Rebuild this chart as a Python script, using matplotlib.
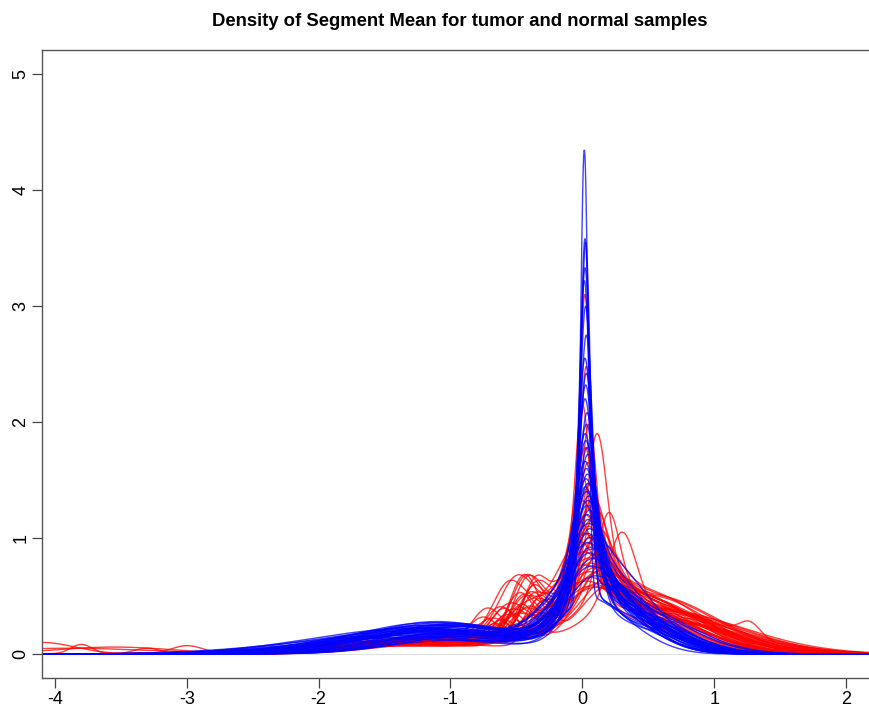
"""Density of segment mean, tumor (red) vs normal (blue) samples."""

import matplotlib

matplotlib.use("Agg")
import matplotlib.pyplot as plt
import numpy as np

plt.rcParams["font.family"] = ["Liberation Sans", "DejaVu Sans"]
plt.rcParams["axes.unicode_minus"] = False

# ---- normal samples (blue): central peak, base, left shoulder, right tail ----
blue_peak_h = [4.35, 3.58, 3.55, 3.33, 3.22, 3.0, 2.75, 2.55, 2.42, 2.32, 2.2, 2.08, 1.98, 1.9,
               1.84, 1.78, 1.72, 1.66, 1.6, 1.55, 1.51, 1.47, 1.44, 1.4, 1.36, 1.32, 1.28, 1.24,
               1.2, 1.16, 1.12, 1.08, 1.04, 1.0, 0.96, 0.92, 0.87, 0.82, 0.75, 0.66]
blue_peak_x = [0.015, 0.02, 0.025, 0.02, 0.015, 0.025, 0.03, 0.02, 0.03, 0.025, 0.02, 0.035, 0.03,
               0.02, 0.025, 0.035, 0.04, 0.02, 0.03, 0.035, 0.025, 0.04, 0.02, 0.03, 0.045, 0.035,
               0.03, 0.05, 0.025, 0.04, 0.03, 0.05, 0.035, 0.045, 0.03, 0.055, 0.04, 0.06, 0.035, 0.05]
blue_peak_w = [0.028, 0.035, 0.037, 0.04, 0.042, 0.045, 0.049, 0.052, 0.055, 0.057, 0.06, 0.063,
               0.066, 0.068, 0.07, 0.072, 0.074, 0.076, 0.078, 0.08, 0.082, 0.084, 0.086, 0.088,
               0.09, 0.092, 0.094, 0.096, 0.098, 0.1, 0.102, 0.105, 0.108, 0.11, 0.113, 0.116,
               0.12, 0.124, 0.128, 0.135]
blue_base_h = [0.3, 0.4, 0.35, 0.45, 0.3, 0.5, 0.4, 0.55, 0.35, 0.45, 0.5, 0.3, 0.6, 0.4, 0.45, 0.35,
               0.5, 0.55, 0.3, 0.45, 0.6, 0.4, 0.35, 0.5, 0.45, 0.55, 0.3, 0.4, 0.5, 0.35, 0.6, 0.45,
               0.4, 0.3, 0.55, 0.5, 0.35, 0.45, 0.4, 0.3]
blue_base_w = [0.18, 0.22, 0.2, 0.25, 0.17, 0.23, 0.2, 0.28, 0.19, 0.24, 0.21, 0.18, 0.26, 0.2,
               0.22, 0.17, 0.25, 0.23, 0.19, 0.21, 0.27, 0.2, 0.18, 0.24, 0.22, 0.26, 0.17, 0.2,
               0.23, 0.19, 0.28, 0.21, 0.2, 0.18, 0.25, 0.22, 0.19, 0.24, 0.21, 0.2]
blue_left_h = [0.18, 0.22, 0.15, 0.25, 0.2, 0.12, 0.27, 0.19, 0.23, 0.16, 0.21, 0.26, 0.14, 0.24,
               0.18, 0.2, 0.28, 0.17, 0.22, 0.15, 0.25, 0.19, 0.13, 0.23, 0.21, 0.17, 0.26, 0.2,
               0.16, 0.24, 0.18, 0.22, 0.27, 0.15, 0.2, 0.23, 0.19, 0.25, 0.17, 0.21]
blue_left_x = [-1.0, -1.2, -0.9, -1.1, -1.3, -0.95, -1.15, -1.05, -1.25, -0.85, -1.1, -1.0, -1.35,
               -0.9, -1.2, -1.05, -1.1, -0.95, -1.3, -1.0, -1.15, -0.9, -1.25, -1.05, -1.0, -1.2,
               -0.95, -1.1, -1.4, -1.0, -0.9, -1.15, -1.05, -1.25, -0.95, -1.1, -1.2, -1.0, -0.85, -1.1]
blue_left_w = [0.6, 0.7, 0.5, 0.65, 0.75, 0.55, 0.6, 0.7, 0.65, 0.5, 0.6, 0.55, 0.8, 0.6, 0.7, 0.65,
               0.55, 0.6, 0.75, 0.5, 0.65, 0.6, 0.7, 0.55, 0.65, 0.6, 0.5, 0.7, 0.8, 0.6, 0.55, 0.65,
               0.6, 0.7, 0.5, 0.6, 0.75, 0.65, 0.55, 0.6]
blue_right_h = [0.25, 0.3, 0.2, 0.35, 0.28, 0.22, 0.32, 0.18, 0.3, 0.26, 0.24, 0.34, 0.2, 0.28,
                0.36, 0.22, 0.3, 0.25, 0.19, 0.33, 0.27, 0.23, 0.31, 0.21, 0.29, 0.35, 0.24, 0.2,
                0.3, 0.26, 0.38, 0.22, 0.28, 0.32, 0.25, 0.2, 0.3, 0.27, 0.35, 0.4]
blue_right_x = [0.35, 0.4, 0.3, 0.45, 0.38, 0.32, 0.42, 0.28, 0.36, 0.4, 0.33, 0.44, 0.3, 0.37,
                0.41, 0.34, 0.39, 0.31, 0.43, 0.36, 0.38, 0.3, 0.42, 0.35, 0.4, 0.33, 0.37, 0.45,
                0.32, 0.39, 0.36, 0.41, 0.34, 0.38, 0.3, 0.44, 0.35, 0.4, 0.33, 0.37]
blue_right_w = [0.3, 0.35, 0.25, 0.4, 0.32, 0.28, 0.36, 0.3, 0.34, 0.38, 0.27, 0.33, 0.3, 0.35,
                0.4, 0.29, 0.31, 0.36, 0.33, 0.28, 0.37, 0.3, 0.34, 0.32, 0.39, 0.3, 0.35, 0.33,
                0.28, 0.36, 0.31, 0.34, 0.38, 0.3, 0.35, 0.32, 0.37, 0.29, 0.33, 0.36]

# ---- tumor samples (red) ----
red_peak_h = [3.1, 2.48, 2.15, 1.98, 1.9, 1.78, 1.65, 1.55, 1.48, 1.42, 1.36, 1.32, 1.28, 1.24,
              1.2, 1.17, 1.14, 1.1, 1.07, 1.04, 1.02, 1.0, 0.97, 0.95, 0.93, 0.9, 0.88, 0.86, 0.84,
              0.82, 0.8, 0.78, 0.76, 0.74, 0.72, 0.7, 0.68, 0.66, 0.64, 0.62, 0.6, 0.58, 0.56,
              0.54, 1.05, 1.22]
red_peak_x = [0.02, 0.03, 0.0, 0.05, 0.11, 0.02, 0.04, -0.01, 0.06, 0.03, 0.08, 0.0, 0.05, 0.1,
              0.02, 0.07, -0.02, 0.04, 0.12, 0.01, 0.06, 0.09, -0.03, 0.03, 0.14, 0.05, 0.0, 0.08,
              0.11, 0.02, 0.16, 0.04, -0.04, 0.07, 0.13, 0.01, 0.1, 0.05, 0.18, -0.02, 0.08, 0.03,
              0.15, 0.06, 0.3, 0.2]
red_peak_w = [0.045, 0.05, 0.058, 0.065, 0.075, 0.068, 0.075, 0.078, 0.085, 0.088, 0.092, 0.095,
              0.098, 0.1, 0.104, 0.108, 0.11, 0.112, 0.115, 0.118, 0.12, 0.122, 0.125, 0.128,
              0.13, 0.133, 0.136, 0.14, 0.142, 0.145, 0.148, 0.15, 0.153, 0.156, 0.16, 0.163,
              0.166, 0.17, 0.174, 0.178, 0.182, 0.186, 0.19, 0.195, 0.1, 0.08]
red_base_h = [0.35, 0.3, 0.4, 0.25, 0.3, 0.45, 0.35, 0.3, 0.4, 0.25, 0.35, 0.45, 0.3, 0.2, 0.4,
              0.35, 0.3, 0.25, 0.2, 0.4, 0.35, 0.3, 0.45, 0.25, 0.2, 0.35, 0.4, 0.3, 0.25, 0.35,
              0.2, 0.3, 0.4, 0.25, 0.2, 0.35, 0.3, 0.25, 0.2, 0.3, 0.25, 0.3, 0.2, 0.25, 0.2, 0.2]
red_base_w = [0.22, 0.2, 0.26, 0.18, 0.24, 0.28, 0.22, 0.2, 0.26, 0.3, 0.23, 0.27, 0.21, 0.19,
              0.25, 0.22, 0.2, 0.24, 0.18, 0.28, 0.23, 0.21, 0.3, 0.2, 0.19, 0.25, 0.27, 0.22,
              0.2, 0.24, 0.18, 0.21, 0.29, 0.2, 0.19, 0.26, 0.22, 0.2, 0.18, 0.23, 0.21, 0.24,
              0.19, 0.22, 0.2, 0.2]
red_left_h = [0.1, 0.14, 0.08, 0.16, 0.12, 0.09, 0.15, 0.11, 0.13, 0.07, 0.12, 0.17, 0.1, 0.14,
              0.09, 0.13, 0.16, 0.08, 0.11, 0.15, 0.12, 0.1, 0.18, 0.09, 0.13, 0.11, 0.14, 0.07,
              0.12, 0.16, 0.1, 0.13, 0.15, 0.09, 0.11, 0.14, 0.12, 0.1, 0.08, 0.16, 0.13, 0.11,
              0.09, 0.15, 0.12, 0.1]
red_left_x = [-1.1, -0.9, -1.3, -1.0, -1.2, -1.4, -0.95, -1.15, -1.05, -1.5, -1.0, -0.9, -1.25,
              -1.1, -1.35, -1.0, -0.95, -1.2, -1.1, -0.9, -1.3, -1.05, -1.0, -1.4, -1.15, -0.95,
              -1.1, -1.25, -1.0, -0.9, -1.2, -1.05, -1.1, -1.3, -1.0, -0.95, -1.15, -1.2, -1.35,
              -1.0, -1.1, -0.9, -1.25, -1.05, -1.0, -1.15]
red_left_w = [0.6, 0.55, 0.7, 0.5, 0.65, 0.8, 0.55, 0.6, 0.7, 0.9, 0.6, 0.5, 0.65, 0.7, 0.75,
              0.55, 0.6, 0.65, 0.7, 0.5, 0.8, 0.6, 0.55, 0.85, 0.65, 0.6, 0.7, 0.75, 0.55, 0.5,
              0.65, 0.6, 0.7, 0.8, 0.6, 0.55, 0.65, 0.7, 0.75, 0.5, 0.6, 0.55, 0.7, 0.65, 0.6, 0.7]
red_bump_h = [0.2, 0.0, 0.35, 0.15, 0.0, 0.45, 0.25, 0.0, 0.3, 0.5, 0.1, 0.2, 0.4, 0.0, 0.3, 0.15,
              0.35, 0.25, 0.0, 0.45, 0.2, 0.3, 0.1, 0.4, 0.25, 0.0, 0.35, 0.2, 0.55, 0.15, 0.3,
              0.0, 0.4, 0.25, 0.2, 0.35, 0.1, 0.45, 0.3, 0.2, 0.0, 0.25, 0.4, 0.15, 0.3, 0.2]
red_bump_x = [-0.4, -0.5, -0.45, -0.6, -0.3, -0.42, -0.35, -0.5, -0.55, -0.43, -0.7, -0.38,
              -0.48, -0.4, -0.72, -0.3, -0.45, -0.58, -0.4, -0.5, -0.33, -0.62, -0.45, -0.4,
              -0.52, -0.4, -0.36, -0.66, -0.44, -0.5, -0.3, -0.4, -0.56, -0.42, -0.75, -0.38,
              -0.48, -0.35, -0.6, -0.45, -0.4, -0.53, -0.32, -0.68, -0.46, -0.4]
red_bump_w = [0.1, 0.1, 0.12, 0.1, 0.1, 0.11, 0.09, 0.1, 0.13, 0.12, 0.1, 0.08, 0.11, 0.1, 0.12,
              0.09, 0.1, 0.11, 0.1, 0.13, 0.09, 0.12, 0.1, 0.11, 0.1, 0.1, 0.09, 0.12, 0.11, 0.1,
              0.08, 0.1, 0.12, 0.1, 0.11, 0.09, 0.1, 0.12, 0.11, 0.1, 0.1, 0.12, 0.09, 0.11, 0.1, 0.1]
red_right_h = [0.3, 0.4, 0.25, 0.35, 0.45, 0.3, 0.4, 0.5, 0.28, 0.35, 0.42, 0.3, 0.38, 0.48, 0.32,
               0.4, 0.26, 0.36, 0.5, 0.3, 0.44, 0.34, 0.28, 0.4, 0.52, 0.36, 0.3, 0.42, 0.34,
               0.46, 0.38, 0.32, 0.4, 0.48, 0.3, 0.36, 0.44, 0.28, 0.5, 0.34, 0.4, 0.3, 0.46,
               0.36, 0.3, 0.4]
red_right_x = [0.4, 0.5, 0.35, 0.6, 0.45, 0.55, 0.42, 0.5, 0.38, 0.65, 0.48, 0.4, 0.55, 0.45,
               0.6, 0.5, 0.36, 0.44, 0.52, 0.58, 0.4, 0.48, 0.62, 0.45, 0.5, 0.42, 0.56, 0.38,
               0.5, 0.46, 0.6, 0.4, 0.52, 0.44, 0.55, 0.48, 0.42, 0.58, 0.5, 0.4, 0.54, 0.46,
               0.5, 0.6, 0.45, 0.4]
red_right_w = [0.4, 0.5, 0.35, 0.55, 0.45, 0.5, 0.4, 0.45, 0.38, 0.6, 0.5, 0.42, 0.55, 0.4,
               0.6, 0.48, 0.36, 0.45, 0.5, 0.55, 0.42, 0.5, 0.6, 0.44, 0.4, 0.46, 0.52, 0.38,
               0.5, 0.45, 0.58, 0.42, 0.5, 0.48, 0.55, 0.4, 0.45, 0.6, 0.5, 0.42, 0.52, 0.46,
               0.4, 0.58, 0.48, 0.44]

# isolated outlier bumps on a few tumor curves (curve index, position, height, width)
red_extra_idx = [3, 9, 15, 22, 30, 37, 12, 27]
red_extra_x = [-4.1, -3.8, -3.55, -3.3, -3.0, -3.9, 1.27, 1.35]
red_extra_h = [0.1, 0.08, 0.06, 0.05, 0.07, 0.05, 0.12, 0.08]
red_extra_w = [0.25, 0.08, 0.45, 0.1, 0.12, 0.6, 0.08, 0.1]


def bell(x, mu, h, w):
    return h * np.exp(-0.5 * ((x - mu) / w) ** 2)


def build_curve(x, px, ph, pw, parts):
    """Narrow central peak scaled so the whole curve tops out at ph."""
    others = np.zeros_like(x)
    at_peak = 0.0
    for mu, h, w in parts:
        others = others + bell(x, mu, h, w)
        at_peak += bell(px, mu, h, w)
    narrow_h = max(ph - at_peak, 0.05)
    return bell(x, px, narrow_h, pw) + others


xs = np.linspace(-4.3, 2.5, 2000)

fig = plt.figure(figsize=(8.69, 7.04), dpi=100)
ax = fig.add_axes([0.0483, 0.0369, 0.962, 0.892])
ax.axhline(0, color="#e0e0e0", lw=0.8, zorder=0)

for i in range(len(red_peak_h)):
    parts = [
        (red_peak_x[i], red_base_h[i], red_base_w[i]),
        (red_left_x[i], red_left_h[i], red_left_w[i]),
        (red_right_x[i], red_right_h[i], red_right_w[i]),
        (red_bump_x[i], red_bump_h[i], red_bump_w[i]),
    ]
    for k, idx in enumerate(red_extra_idx):
        if idx == i:
            parts.append((red_extra_x[k], red_extra_h[k], red_extra_w[k]))
    ys = build_curve(xs, red_peak_x[i], red_peak_h[i], red_peak_w[i], parts)
    ax.plot(xs, ys, color="#ff0000", lw=1.0, alpha=0.75)

for i in range(len(blue_peak_h)):
    parts = [
        (blue_peak_x[i], blue_base_h[i], blue_base_w[i]),
        (blue_left_x[i], blue_left_h[i], blue_left_w[i]),
        (blue_right_x[i], blue_right_h[i], blue_right_w[i]),
    ]
    ys = build_curve(xs, blue_peak_x[i], blue_peak_h[i], blue_peak_w[i], parts)
    ax.plot(xs, ys, color="#0000ff", lw=1.0, alpha=0.75)

ax.set_xlim(-4.098, 2.242)
ax.set_ylim(-0.207, 5.207)
ax.set_xticks(range(-4, 3))
ax.set_yticks(range(0, 6))
ax.set_yticklabels([str(v) for v in range(0, 6)], rotation=90, va="center")
ax.tick_params(axis="both", length=7, width=0.9, color="#444444", labelsize=13, pad=2)
for side in ax.spines.values():
    side.set_color("#555555")
    side.set_linewidth(1.0)

ax.set_title("Density of Segment Mean for tumor and normal samples",
             fontsize=13.3, fontweight="bold", pad=17)

fig.savefig("out.png", dpi=100)
plt.close(fig)
